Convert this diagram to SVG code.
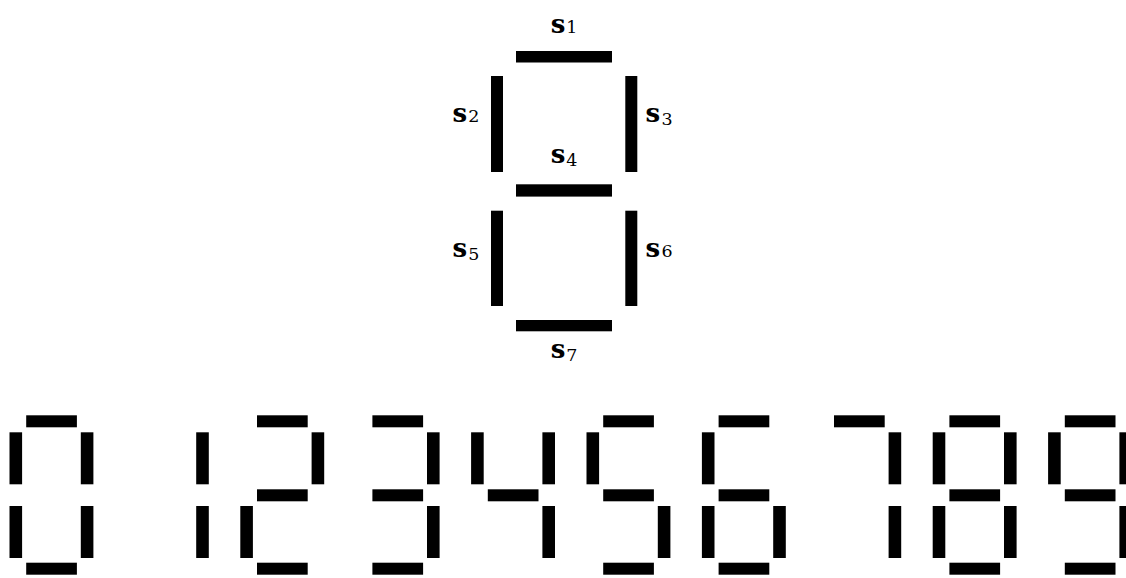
<svg xmlns="http://www.w3.org/2000/svg" xmlns:xlink="http://www.w3.org/1999/xlink" width="1126" height="578" viewBox="0 0 1126 578">
<style>
  .seg { fill: #000; }
  .s { font-family: "DejaVu Serif", "Liberation Serif", serif; font-weight: bold; font-size: 26px; fill: #000; }
  .n { font-family: "DejaVu Serif", "Liberation Serif", serif; font-size: 17.5px; fill: #000; }
</style>
<defs>
  <rect id="h" class="seg" width="50.7" height="12"/>
  <rect id="v" class="seg" width="12.6" height="52"/>
</defs>
<rect width="1126" height="578" fill="#fff"/>

<g id="segment-diagram">
  <g id="s1"><rect class="seg" x="516" y="51" width="96" height="11.5"/><text class="s" x="550.8" y="32.7">s</text><text class="n" x="566.3" y="33.3">1</text></g>
  <g id="s2"><rect class="seg" x="491" y="76" width="12" height="96"/><text class="s" x="452.4" y="121.7">s</text><text class="n" x="468.3" y="122.3">2</text></g>
  <g id="s3"><rect class="seg" x="625.3" y="76" width="12" height="96"/><text class="s" x="645.4" y="121.7">s</text><text class="n" x="661.5" y="125">3</text></g>
  <g id="s4"><rect class="seg" x="516" y="184.3" width="96" height="12.3"/><text class="s" x="550.8" y="162.7">s</text><text class="n" x="566.3" y="166">4</text></g>
  <g id="s5"><rect class="seg" x="491" y="210.7" width="12" height="95.3"/><text class="s" x="452.4" y="256.7">s</text><text class="n" x="468.3" y="260">5</text></g>
  <g id="s6"><rect class="seg" x="625.3" y="210.7" width="12" height="95.3"/><text class="s" x="645.4" y="256.7">s</text><text class="n" x="661.5" y="257.3">6</text></g>
  <g id="s7"><rect class="seg" x="516" y="320" width="96" height="11.3"/><text class="s" x="550.8" y="357.7">s</text><text class="n" x="566.3" y="361">7</text></g>
</g>

<g id="digit-0" transform="translate(9.5,0)">
  <use xlink:href="#h" x="16.7" y="415.3"/><use xlink:href="#v" x="0" y="432.3"/><use xlink:href="#v" x="71.3" y="432.3"/>
  <use xlink:href="#v" x="0" y="506"/><use xlink:href="#v" x="71.3" y="506"/><use xlink:href="#h" x="16.7" y="562.7"/>
</g>
<g id="digit-1" transform="translate(124.9,0)">
  <use xlink:href="#v" x="71.3" y="432.3"/><use xlink:href="#v" x="71.3" y="506"/>
</g>
<g id="digit-2" transform="translate(240.3,0)">
  <use xlink:href="#h" x="16.7" y="415.3"/><use xlink:href="#v" x="71.3" y="432.3"/><use xlink:href="#h" x="16.7" y="489.3"/>
  <use xlink:href="#v" x="0" y="506"/><use xlink:href="#h" x="16.7" y="562.7"/>
</g>
<g id="digit-3" transform="translate(355.7,0)">
  <use xlink:href="#h" x="16.7" y="415.3"/><use xlink:href="#v" x="71.3" y="432.3"/><use xlink:href="#h" x="16.7" y="489.3"/>
  <use xlink:href="#v" x="71.3" y="506"/><use xlink:href="#h" x="16.7" y="562.7"/>
</g>
<g id="digit-4" transform="translate(471.1,0)">
  <use xlink:href="#v" x="0" y="432.3"/><use xlink:href="#v" x="71.3" y="432.3"/><use xlink:href="#h" x="16.7" y="489.3"/>
  <use xlink:href="#v" x="71.3" y="506"/>
</g>
<g id="digit-5" transform="translate(586.5,0)">
  <use xlink:href="#h" x="16.7" y="415.3"/><use xlink:href="#v" x="0" y="432.3"/><use xlink:href="#h" x="16.7" y="489.3"/>
  <use xlink:href="#v" x="71.3" y="506"/><use xlink:href="#h" x="16.7" y="562.7"/>
</g>
<g id="digit-6" transform="translate(701.9,0)">
  <use xlink:href="#h" x="16.7" y="415.3"/><use xlink:href="#v" x="0" y="432.3"/><use xlink:href="#h" x="16.7" y="489.3"/>
  <use xlink:href="#v" x="0" y="506"/><use xlink:href="#v" x="71.3" y="506"/><use xlink:href="#h" x="16.7" y="562.7"/>
</g>
<g id="digit-7" transform="translate(817.3,0)">
  <use xlink:href="#h" x="16.7" y="415.3"/><use xlink:href="#v" x="71.3" y="432.3"/><use xlink:href="#v" x="71.3" y="506"/>
</g>
<g id="digit-8" transform="translate(932.7,0)">
  <use xlink:href="#h" x="16.7" y="415.3"/><use xlink:href="#v" x="0" y="432.3"/><use xlink:href="#v" x="71.3" y="432.3"/><use xlink:href="#h" x="16.7" y="489.3"/>
  <use xlink:href="#v" x="0" y="506"/><use xlink:href="#v" x="71.3" y="506"/><use xlink:href="#h" x="16.7" y="562.7"/>
</g>
<g id="digit-9" transform="translate(1048.1,0)">
  <use xlink:href="#h" x="16.7" y="415.3"/><use xlink:href="#v" x="0" y="432.3"/><use xlink:href="#v" x="71.3" y="432.3"/><use xlink:href="#h" x="16.7" y="489.3"/>
  <use xlink:href="#v" x="71.3" y="506"/><use xlink:href="#h" x="16.7" y="562.7"/>
</g>
</svg>
